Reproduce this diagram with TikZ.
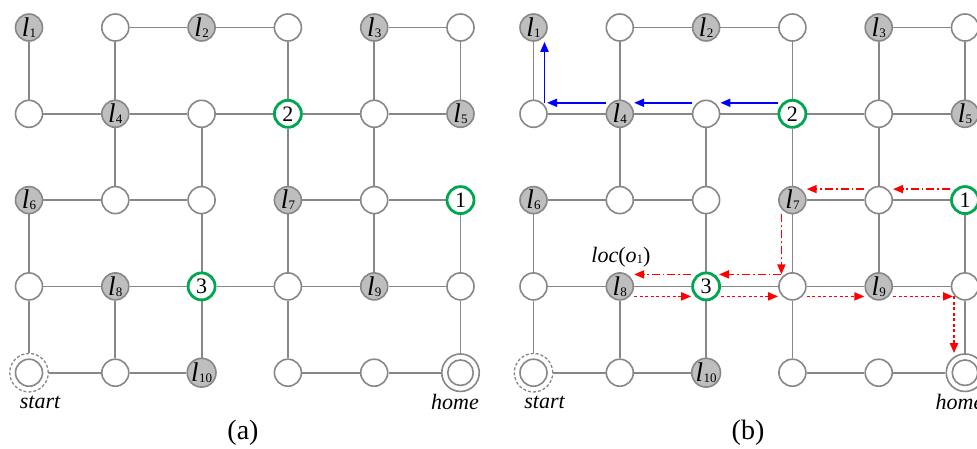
\documentclass[tikz,border=0pt]{standalone}
\usepackage{fontspec}
\setmainfont{Liberation Serif}
\usetikzlibrary{arrows.meta,backgrounds,calc}
\definecolor{edgegray}{RGB}{135,135,135}
\definecolor{landfill}{RGB}{190,190,190}
\definecolor{tgreen}{RGB}{0,166,80}
\newcommand\lab[1]{{\fontsize{27}{27}\selectfont\itshape l}\kern0.3pt\raisebox{-1pt}{\fontsize{13}{13}\selectfont #1}}
\begin{document}
\begin{tikzpicture}[x=1pt,y=-1pt,
  base/.style={circle,inner sep=0pt,minimum size=27pt,line width=1.6pt,draw=edgegray,fill=white,font=\fontsize{22}{22}\selectfont},
  pl/.style={base},
  lm/.style={base,fill=landfill},
  tg/.style={base,draw=tgreen,line width=2.8pt},
  stouter/.style={circle,inner sep=0pt,minimum size=38.5pt,line width=1.3pt,draw=edgegray,dash pattern=on 3pt off 2pt},
  hmouter/.style={base,minimum size=37.5pt},
  hminner/.style={base,minimum size=25.5pt},
  edge/.style={draw=edgegray,line width=1.8pt},
  bluearr/.style={draw=blue,line width=1.8pt,-{Triangle[length=10pt,width=8pt]}},
  reddd/.style={draw=red,line width=1.8pt,dash pattern=on 8pt off 3pt on 1.8pt off 3pt,-{Triangle[length=10pt,width=8pt]}},
  reddot/.style={draw=red,line width=1.8pt,dash pattern=on 3pt off 2.5pt,-{Triangle[length=10pt,width=8pt]}},
  itlab/.style={font=\fontsize{22}{22}\selectfont\itshape,inner sep=0pt},
  caption/.style={font=\fontsize{28}{28}\selectfont,inner sep=0pt}]
\useasboundingbox (0,0) rectangle (977,448);
\foreach \p/\ox in {a/29,b/533.5}{
  \foreach \r/\c/\t/\txt in {
    1/1/lm/{\lab{1}},1/2/pl/{},1/3/lm/{\lab{2}},1/4/pl/{},1/5/lm/{\lab{3}},1/6/pl/{},
    2/1/pl/{},2/2/lm/{\lab{4}},2/3/pl/{},2/4/tg/{2},2/5/pl/{},2/6/lm/{\lab{5}},
    3/1/lm/{\lab{6}},3/2/pl/{},3/3/pl/{},3/4/lm/{\lab{7}},3/5/pl/{},3/6/tg/{1},
    4/1/pl/{},4/2/lm/{\lab{8}},4/3/tg/{3},4/4/pl/{},4/5/lm/{\lab{9}},4/6/pl/{},
    5/2/pl/{},5/3/lm/{\lab{10}},5/4/pl/{},5/5/pl/{}}{
    \pgfmathsetmacro\X{\ox+(\c-1)*86.3}
    \pgfmathsetmacro\Y{27.5+(\r-1)*86.3}
    \node[\t] (\p\r\c) at (\X,\Y) {\txt};
  }
  \pgfmathsetmacro\Xs{\ox}
  \pgfmathsetmacro\Xh{\ox+5*86.3}
  \pgfmathsetmacro\Yb{27.5+4*86.3}
  \node[pl] (\p51i) at (\Xs,\Yb) {};
  \node[stouter] (\p51) at (\Xs,\Yb) {};
  \node[hmouter] (\p56) at (\Xh,\Yb) {};
  \node[hminner] (\p56i) at (\Xh,\Yb) {};
  \node[itlab] (\p start) at (\ox+11,402) {start};
  \node[itlab] (\p home) at (\ox+426,402) {home};
  \begin{scope}[on background layer]
    \foreach \u/\v in {12/13,13/14,15/16,
      21/22,22/23,23/24,24/25,25/26,
      31/32,32/33,34/35,35/36,
      41/42,42/43,43/44,44/45,45/46,
      51/52,52/53,54/55,55/56,
      11/21,12/22,14/24,15/25,16/26,
      22/32,23/33,24/34,25/35,
      31/41,33/43,34/44,35/45,36/46,
      41/51,42/52,43/53,44/54,46/56}{
      \draw[edge] (\p\u) -- (\p\v);
    }
  \end{scope}
}
\node[caption] (capa) at (243,433) {(a)};
\node[caption] (capb) at (748,433) {(b)};
\node[inner sep=0pt,font=\fontsize{22}{22}\selectfont] (loc) at (621,257) {\textit{loc}(\textit{o}\raisebox{-1pt}{\fontsize{13}{13}\selectfont 1})};
\coordinate (bc1) at ([shift={(11pt,11pt)}]b21.center);
\coordinate (bc1tip) at ([shift={(13.5pt,11pt)}]b21.center);
\coordinate (rc1) at ([shift={(-11pt,12pt)}]b44.center);
\coordinate (rc2) at ([shift={(-11pt,-10pt)}]b46.center);
\coordinate (rc2tip) at ([shift={(-12pt,-10pt)}]b46.center);
\begin{scope}[on background layer]
  % blue path
  \draw[bluearr] ([yshift=11pt]b24.west) -- ([yshift=11pt]b23.east);
  \draw[bluearr] ([yshift=11pt]b23.west) -- ([yshift=11pt]b22.east);
  \draw[bluearr] ([yshift=11pt]b22.west) -- (bc1tip);
  \draw[bluearr] (bc1) -- ([xshift=11pt]b11.south);
  % red dash-dot path
  \draw[reddd] ([yshift=11pt]b36.west) -- ([yshift=11pt]b35.east);
  \draw[reddd] ([yshift=11pt]b35.west) -- ([yshift=11pt]b34.east);
  \draw[reddd] ([xshift=-11pt]b34.south) -- (rc1);
  \draw[reddd] (rc1) -- ([shift={(-2pt,12pt)}]b43.east);
  \draw[reddd] ([yshift=12pt]b43.west) -- ([yshift=12pt]b42.east);
  % red dotted path
  \draw[reddot] ([yshift=-10pt]b42.east) -- ([yshift=-10pt]b43.west);
  \draw[reddot] ([yshift=-10pt]b43.east) -- ([yshift=-10pt]b44.west);
  \draw[reddot] ([yshift=-10pt]b44.east) -- ([yshift=-10pt]b45.west);
  \draw[reddot] ([yshift=-10pt]b45.east) -- (rc2tip);
  \draw[reddot] (rc2) -- ([xshift=-11pt]b56.north);
\end{scope}
\end{tikzpicture}
\end{document}
